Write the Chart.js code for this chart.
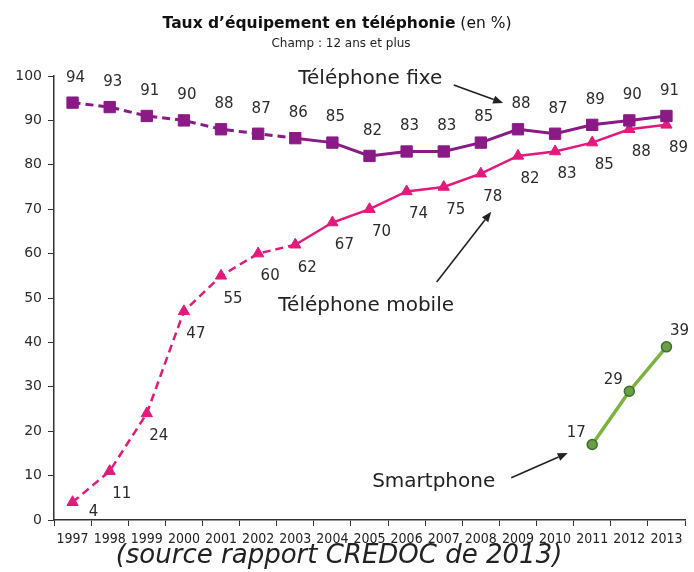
<!DOCTYPE html>
<html lang="fr">
<head>
<meta charset="utf-8">
<title>Taux d’équipement en téléphonie</title>
<script src="https://cdn.jsdelivr.net/npm/chart.js@4.4.1/dist/chart.umd.min.js"></script>
<style>
  html, body { margin: 0; padding: 0; background: #fff; }
  canvas { display: block; }
</style>
</head>
<body>
<canvas id="myChart" width="694" height="572"></canvas>
<script>
// Taux d'équipement (%) - CREDOC 2013
const years = ['1997', '1998', '1999', '2000', '2001', '2002', '2003', '2004', '2005',
               '2006', '2007', '2008', '2009', '2010', '2011', '2012', '2013'];
const fixe = [94, 93, 91, 90, 88, 87, 86, 85, 82, 83, 83, 85, 88, 87, 89, 90, 91];
const mobile = [4, 11, 24, 47, 55, 60, 62, 67, 70, 74, 75, 78, 82, 83, 85, 88, 89];
const smartphone = [null, null, null, null, null, null, null, null, null, null,
                    null, null, null, null, 17, 29, 39];

const FONT = 'Verdana, "DejaVu Sans", sans-serif';
const TEXT = '#2b2b2b';

// callouts: text centre and arrow, in (year index, %) units
const callouts = [
    { text: 'Téléphone fixe',   at: [8.02, 99.3], from: [10.27, 98.0], to: [11.6, 93.9] },
    { text: 'Téléphone mobile', at: [7.91, 48.3], from: [9.81, 53.6],  to: [11.28, 69.4] },
    { text: 'Smartphone',       at: [9.73, 8.5],  from: [11.82, 9.5],  to: [13.34, 15.1] }
];

// dashed until 2003, solid afterwards
const dashedUntil2003 = ctx => ctx.p0DataIndex < 6 ? [8, 5] : undefined;

function arrow(ctx, x1, y1, x2, y2) {
    const a = Math.atan2(y2 - y1, x2 - x1);
    const len = 10, half = 4;
    ctx.beginPath();
    ctx.moveTo(x1, y1);
    ctx.lineTo(x2 - Math.cos(a) * len, y2 - Math.sin(a) * len);
    ctx.stroke();
    ctx.beginPath();
    ctx.moveTo(x2, y2);
    ctx.lineTo(x2 - Math.cos(a) * len - Math.sin(a) * half, y2 - Math.sin(a) * len + Math.cos(a) * half);
    ctx.lineTo(x2 - Math.cos(a) * len + Math.sin(a) * half, y2 - Math.sin(a) * len - Math.cos(a) * half);
    ctx.closePath();
    ctx.fill();
}

const extras = {
    id: 'extras',
    afterDatasetsDraw(chart) {
        const ctx = chart.ctx;
        const xs = chart.scales.x, ys = chart.scales.y;

        // value labels next to each point
        chart.data.datasets.forEach((ds, i) => {
            const meta = chart.getDatasetMeta(i);
            ctx.save();
            ctx.font = '15px ' + FONT;
            ctx.fillStyle = TEXT;
            ctx.textAlign = 'center';
            ctx.textBaseline = 'middle';
            meta.data.forEach((pt, j) => {
                const v = ds.data[j];
                if (v == null) return;
                const off = ds.labelOffset(j);
                ctx.fillText(String(v), pt.x + off[0], pt.y + off[1]);
            });
            ctx.restore();
        });

        // series names with arrows
        ctx.save();
        ctx.font = '20px ' + FONT;
        ctx.fillStyle = '#222';
        ctx.strokeStyle = '#222';
        ctx.lineWidth = 1.6;
        ctx.textAlign = 'center';
        ctx.textBaseline = 'middle';
        callouts.forEach(c => {
            ctx.fillText(c.text, xs.getPixelForValue(c.at[0]), ys.getPixelForValue(c.at[1]));
            arrow(ctx,
                xs.getPixelForValue(c.from[0]), ys.getPixelForValue(c.from[1]),
                xs.getPixelForValue(c.to[0]), ys.getPixelForValue(c.to[1]));
        });
        ctx.restore();
    },
    afterDraw(chart) {
        const ctx = chart.ctx;
        ctx.save();
        ctx.fillStyle = '#111';
        ctx.textBaseline = 'middle';
        ctx.textAlign = 'left';
        const boldPart = 'Taux d’équipement en téléphonie';
        const normalPart = ' (en %)';
        ctx.font = 'bold 15.5px ' + FONT;
        const w1 = ctx.measureText(boldPart).width;
        ctx.font = '15.5px ' + FONT;
        const w2 = ctx.measureText(normalPart).width;
        const x0 = 337 - (w1 + w2) / 2;
        ctx.font = 'bold 15.5px ' + FONT;
        ctx.fillText(boldPart, x0, 24);
        ctx.font = '15.5px ' + FONT;
        ctx.fillText(normalPart, x0 + w1, 24);

        ctx.textAlign = 'center';
        ctx.font = '12px ' + FONT;
        ctx.fillStyle = '#222';
        ctx.fillText('Champ : 12 ans et plus', 341, 44);

        ctx.font = 'italic 26px ' + FONT;
        ctx.fillStyle = '#222';
        ctx.fillText('(source rapport CREDOC de 2013)', 339, 556);
        ctx.restore();
    }
};

const ctx = document.getElementById('myChart').getContext('2d');

const myChart = new Chart(ctx, {
    type: 'line',
    data: {
        labels: years,
        datasets: [{
            label: 'Téléphone fixe',
            data: fixe,
            borderColor: '#8a1a86',
            backgroundColor: '#8a1a86',
            borderWidth: 3,
            pointStyle: 'rect',
            pointRadius: 8,
            pointBorderWidth: 1,
            segment: { borderDash: dashedUntil2003 },
            labelOffset: () => [3, -25]
        }, {
            label: 'Téléphone mobile',
            data: mobile,
            borderColor: '#e3197c',
            backgroundColor: '#e3197c',
            borderWidth: 2.5,
            pointStyle: 'triangle',
            pointRadius: 6.5,
            pointBorderWidth: 1,
            segment: { borderDash: dashedUntil2003 },
            labelOffset: j => j === 0 ? [21, 10] : [12, 23]
        }, {
            label: 'Smartphone',
            data: smartphone,
            borderColor: '#7ab33e',
            backgroundColor: '#6a9f48',
            pointBorderColor: '#3e6f2a',
            borderWidth: 3.5,
            pointStyle: 'circle',
            pointRadius: 5,
            pointBorderWidth: 1.5,
            labelOffset: j => j === 16 ? [13, -16] : [-16, -11]
        }]
    },
    options: {
        responsive: false,
        animation: false,
        layout: { padding: { top: 76, right: 4, bottom: 20, left: 0 } },
        scales: {
            x: {
                offset: true,
                grid: {
                    offset: true,
                    drawOnChartArea: false,
                    drawTicks: true,
                    tickLength: 6,
                    color: '#333'
                },
                border: { color: '#333', width: 1.5 },
                ticks: {
                    color: '#222',
                    padding: 5,
                    maxRotation: 0,
                    autoSkip: false,
                    font: { family: '"DejaVu Sans Condensed", ' + FONT, size: 14 }
                },
                afterFit: s => { s.height = 32; }
            },
            y: {
                min: 0,
                max: 100,
                ticks: {
                    stepSize: 10,
                    color: TEXT,
                    padding: 6,
                    font: { family: FONT, size: 14 }
                },
                grid: {
                    drawOnChartArea: false,
                    drawTicks: true,
                    tickLength: 6,
                    color: '#333'
                },
                border: { color: '#333', width: 1.5 },
                afterFit: s => { s.width = 54; }
            }
        },
        plugins: {
            legend: { display: false },
            title: { display: false },
            tooltip: { enabled: false }
        }
    },
    plugins: [extras]
});
</script>
</body>
</html>
